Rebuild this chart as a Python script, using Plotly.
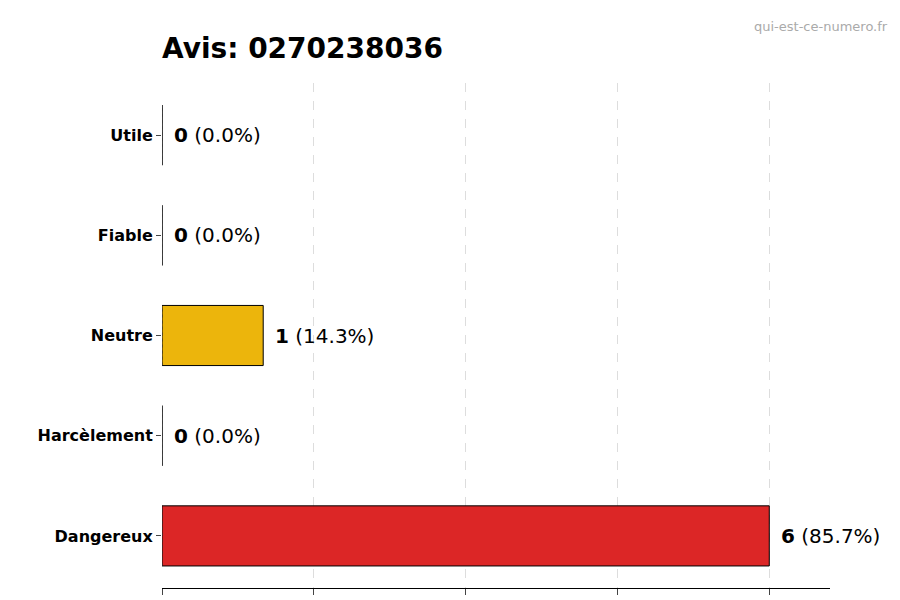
import plotly.graph_objects as go

# review categories, bottom to top
categories = ["Dangereux", "Harcèlement", "Neutre", "Fiable", "Utile"]
counts = [6, 0, 1, 0, 0]
colors = ["#dc2626", "#888888", "#ecb50c", "#888888", "#888888"]
total = sum(counts)

fig = go.Figure()
fig.add_trace(go.Bar(
    y=categories, x=counts, orientation="h",
    marker=dict(color=colors, line=dict(color="black", width=1)),
    width=0.6, showlegend=False, hoverinfo="x+y"))

# thin dark edge for empty bars
for i, cat in enumerate(categories):
    fig.add_shape(type="line", x0=0, x1=0, xref="x", y0=i - 0.3, y1=i + 0.3, yref="y",
                  line=dict(color="#333333", width=1, dash="dot"))

for cat, c in zip(categories, counts):
    pct = 100 * c / total
    fig.add_annotation(x=c, y=cat, xref="x", yref="y", xanchor="left", xshift=10,
                       text="<b>%d</b> (%.1f%%)" % (c, pct), showarrow=False,
                       font=dict(size=20, color="black"))

fig.add_annotation(text="qui-est-ce-numero.fr", xref="paper", yref="paper",
                   x=1.09, y=1.13, xanchor="right", showarrow=False,
                   font=dict(size=13, color="#aaaaaa"))

fig.update_layout(
    width=900, height=600,
    plot_bgcolor="white", paper_bgcolor="white",
    font=dict(family="DejaVu Sans", color="black"),
    title=dict(text="<b>Avis: 0270238036</b>", x=154 / 900, xanchor="left",
               y=0.95, font=dict(size=28)),
    margin=dict(l=154, r=78, t=75, b=20, autoexpand=False),
    xaxis=dict(range=[0, 6.6], tickvals=[0, 1.5, 3, 4.5, 6], showticklabels=False,
               ticks="outside", ticklen=6, showgrid=True, gridcolor="#dddddd",
               griddash="dash", showline=True, linecolor="black", zeroline=False,
               automargin=False),
    yaxis=dict(categoryorder="array", categoryarray=categories, range=[-0.52, 4.52],
               tickvals=categories, ticktext=["<b>%s</b>" % c for c in categories],
               ticks="outside", ticklen=5, showline=False, showgrid=False,
               automargin=False, tickfont=dict(size=16, family="DejaVu Sans")),
)

fig.write_html("out.html")
